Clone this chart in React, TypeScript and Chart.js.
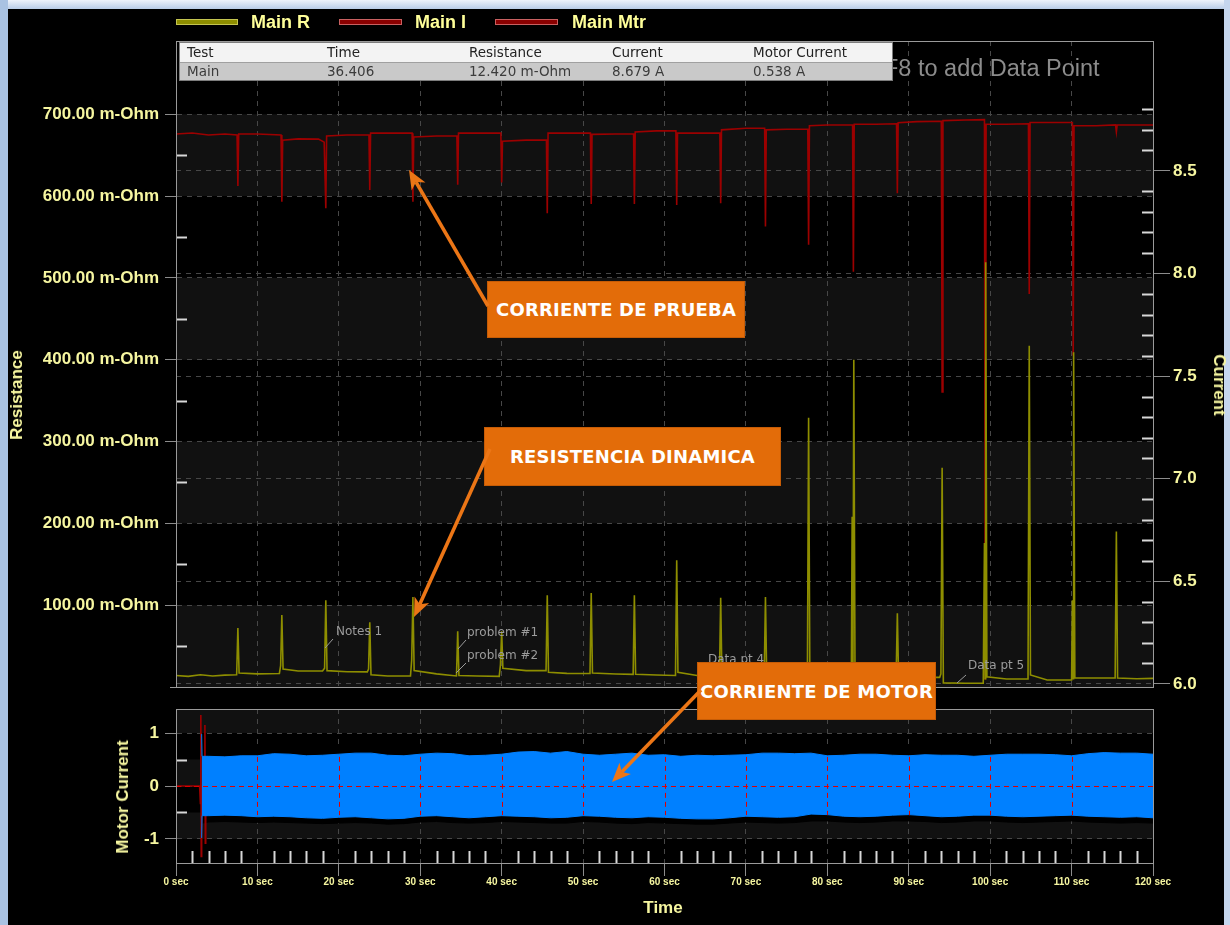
import React, { useEffect, useRef } from "react";
import { Chart, registerables } from "chart.js";

Chart.register(...registerables);

// ---------------- data ----------------
const TIME_TICKS = [0, 10, 20, 30, 40, 50, 60, 70, 80, 90, 100, 110, 120];
const TIME_MINOR = [2, 4, 6, 8, 12, 14, 16, 18, 22, 24, 26, 28, 32, 34, 36, 38, 42, 44, 46, 48, 52, 54, 56, 58, 62, 64, 66, 68, 72, 74, 76, 78, 82, 84, 86, 88, 92, 94, 96, 98, 102, 104, 106, 108, 112, 114, 116, 118];
const RES_TICKS = [100, 200, 300, 400, 500, 600, 700];
const RES_MINOR = [50, 150, 250, 350, 450, 550, 650];
const CUR_TICKS = [6.0, 6.5, 7.0, 7.5, 8.0, 8.5];
const CUR_MINOR = [6.1, 6.2, 6.3, 6.4, 6.6, 6.7, 6.8, 6.9, 7.1, 7.2, 7.3, 7.4, 7.6, 7.7, 7.8, 7.9, 8.1, 8.2, 8.3, 8.4, 8.6, 8.7, 8.8];
const MTR_TICKS = [-1, 0, 1];
const MTR_MINOR = [-0.5, 0.5];

// Main R : resistance (m-Ohm) vs time (sec)
const RES_TIME = [
  0, 1.5, 3, 4.5, 6, 7.45,
  7.6, 7.75, 10, 12.7, 12.85,
  13.0, 13.15, 15, 18.0, 18.25,
  18.4, 18.55, 21, 23.5, 23.65,
  23.8, 23.95, 26, 28.8, 28.95,
  29.1, 29.25, 32, 34.45,
  34.6, 34.75, 37, 39.7, 39.85,
  40.0, 40.15, 43, 45.45,
  45.6, 45.75, 48, 50.85,
  51.0, 51.15, 54, 56.15,
  56.3, 56.45, 59, 61.35,
  61.5, 61.65, 64, 66.75,
  66.9, 67.05, 70, 72.25,
  72.4, 72.55, 75, 77.55,
  77.7, 77.85, 80, 82.95,
  83.05, 83.15, 83.25, 83.4, 86, 88.45,
  88.6, 88.75, 91, 93.8, 93.95,
  94.1, 94.25, 97, 99.15,
  99.3, 99.38, 99.45, 99.6, 102, 104.65,
  104.8, 104.95, 107, 110.0,
  110.1, 110.18, 110.25, 110.4, 113, 115.35,
  115.5, 115.65, 118, 120,
];
const RES_VALUES = [
  14, 13, 15, 13.5, 14.5, 15,
  72, 17, 16, 16.5, 26,
  88, 22, 19.5, 19.5, 23,
  106, 20, 18.7, 18.5, 22,
  79, 15, 13.4, 13.4, 33,
  110, 20, 16, 13.5,
  68, 14, 13.4, 13, 27,
  68, 23, 20, 20,
  112, 18, 16.7, 16.5,
  115, 17, 15.9, 15.5,
  112, 15.5, 14.7, 14,
  155, 18, 14, 14,
  109, 15, 13.5, 13.5,
  110, 15, 13.5, 13.5,
  329, 15, 13.5, 13.5,
  208, 20, 400, 15, 12.5, 12.5,
  90, 12, 11.8, 11.8, 16,
  268, 5, 4.5, 4.5,
  176, 10, 519, 12.6, 9.8, 9.8,
  417, 14.7, 8.6, 8.6,
  106, 10, 409, 11, 11, 11,
  190, 11, 10, 10.5,
];

// Main I : test current (A) vs time (sec)
const CUR_TIME = [
  0, 2, 4, 6, 7.5, 7.6, 7.7,
  10, 12.9, 13.0, 13.1,
  15, 17.5, 18.2, 18.4, 18.5,
  21, 23.7, 23.8, 23.9,
  26, 29.0, 29.1, 29.2,
  32, 34.5, 34.6, 34.7,
  37, 39.9, 40.0, 40.1,
  43, 45.5, 45.6, 45.7,
  48, 50.9, 51.0, 51.1,
  54, 56.2, 56.3, 56.4,
  59, 61.4, 61.5, 61.6,
  64, 66.8, 66.9, 67.0,
  70, 72.3, 72.4, 72.5,
  75, 77.6, 77.7, 77.8,
  80, 83.1, 83.2, 83.3,
  86, 88.5, 88.6, 88.7,
  91, 94.0, 94.1, 94.2,
  97, 99.3, 99.4, 99.5,
  102, 104.7, 104.8, 104.9,
  107, 110.1, 110.2, 110.3,
  113, 115.4, 115.5, 115.6,
  120,
];
const CUR_VALUES = [
  8.68, 8.685, 8.675, 8.68, 8.675, 8.427, 8.68,
  8.68, 8.675, 8.35, 8.65,
  8.656, 8.655, 8.64, 8.318, 8.67,
  8.675, 8.675, 8.407, 8.684,
  8.684, 8.684, 8.35, 8.665,
  8.67, 8.67, 8.432, 8.684,
  8.684, 8.684, 8.443, 8.645,
  8.65, 8.65, 8.294, 8.684,
  8.684, 8.684, 8.339, 8.678,
  8.68, 8.68, 8.339, 8.69,
  8.695, 8.695, 8.334, 8.684,
  8.684, 8.684, 8.342, 8.7,
  8.708, 8.708, 8.229, 8.7,
  8.703, 8.703, 8.14, 8.72,
  8.724, 8.724, 8.008, 8.727,
  8.727, 8.73, 8.391, 8.735,
  8.74, 8.742, 7.423, 8.745,
  8.748, 8.75, 6.02, 8.727,
  8.727, 8.73, 7.9, 8.736,
  8.736, 8.736, 7.6, 8.72,
  8.72, 8.724, 8.69, 8.724,
  8.724,
];

// Motor current envelope (A) vs time (sec)
const MTR_TIME = [3.15, 3.2, 4, 6, 8, 10, 12, 14, 16, 18, 20, 22, 24, 26, 28, 30, 32, 34, 36, 38, 40, 42, 44, 46, 48, 50, 52, 54, 56, 58, 60, 62, 64, 66, 68, 70, 72, 74, 76, 78, 80, 82, 84, 86, 88, 90, 92, 94, 96, 98, 100, 102, 104, 106, 108, 110, 112, 114, 116, 118, 120];
const MTR_BLUE_HI = [0.98, 0.56, 0.56, 0.55, 0.57, 0.57, 0.61, 0.60, 0.57, 0.58, 0.60, 0.62, 0.62, 0.58, 0.57, 0.60, 0.62, 0.61, 0.57, 0.58, 0.60, 0.64, 0.65, 0.62, 0.65, 0.60, 0.58, 0.60, 0.62, 0.58, 0.59, 0.56, 0.58, 0.57, 0.58, 0.59, 0.62, 0.62, 0.61, 0.62, 0.57, 0.58, 0.60, 0.60, 0.58, 0.57, 0.59, 0.58, 0.58, 0.56, 0.58, 0.60, 0.60, 0.60, 0.59, 0.57, 0.61, 0.63, 0.62, 0.62, 0.60];
const MTR_BLUE_LO = [-0.98, -0.56, -0.56, -0.55, -0.56, -0.58, -0.57, -0.58, -0.60, -0.61, -0.59, -0.58, -0.60, -0.62, -0.61, -0.57, -0.56, -0.58, -0.60, -0.58, -0.56, -0.57, -0.58, -0.60, -0.59, -0.56, -0.57, -0.59, -0.60, -0.58, -0.59, -0.61, -0.62, -0.62, -0.60, -0.57, -0.58, -0.59, -0.58, -0.53, -0.54, -0.57, -0.58, -0.57, -0.55, -0.54, -0.56, -0.58, -0.57, -0.55, -0.55, -0.57, -0.58, -0.57, -0.56, -0.55, -0.57, -0.58, -0.59, -0.58, -0.60];
const MTR_BLACK_HI = [0.7, 0.7, 0.7, 0.7, 0.71, 0.72, 0.72, 0.71, 0.7, 0.71, 0.72, 0.73, 0.72, 0.7, 0.7, 0.72, 0.73, 0.72, 0.7, 0.71, 0.72, 0.74, 0.74, 0.72, 0.74, 0.71, 0.7, 0.72, 0.73, 0.7, 0.71, 0.7, 0.71, 0.7, 0.7, 0.71, 0.73, 0.73, 0.72, 0.73, 0.7, 0.7, 0.72, 0.72, 0.7, 0.7, 0.71, 0.7, 0.7, 0.7, 0.7, 0.72, 0.72, 0.72, 0.71, 0.7, 0.72, 0.74, 0.73, 0.73, 0.72];
const MTR_BLACK_LO = [-0.7, -0.7, -0.68, -0.67, -0.68, -0.69, -0.68, -0.69, -0.7, -0.71, -0.7, -0.69, -0.7, -0.72, -0.71, -0.68, -0.67, -0.69, -0.7, -0.69, -0.67, -0.68, -0.69, -0.7, -0.7, -0.67, -0.68, -0.7, -0.71, -0.69, -0.7, -0.71, -0.72, -0.72, -0.7, -0.68, -0.69, -0.7, -0.69, -0.66, -0.66, -0.68, -0.69, -0.68, -0.66, -0.66, -0.67, -0.69, -0.68, -0.66, -0.66, -0.68, -0.69, -0.68, -0.67, -0.66, -0.68, -0.69, -0.7, -0.69, -0.7];
const MTR_RED_TIME = [0, 2.9, 3.0, 3.05, 3.1, 3.15, 3.5, 3.55, 3.6, 3.65, 120];
const MTR_RED_VALUES = [0, 0, -0.33, 1.34, -1.33, 0, 0, 1.15, -1.08, 0, 0];

// shaded value bands of the plot backgrounds
const RES_BANDS = [[600, 700], [400, 500], [200, 300], [0, 100]];
const MTR_BANDS = [[1, 1.5], [0, 0.5], [-1, -0.5]];

// ---------------- style ----------------
const FONT = "'Liberation Sans', Arial, sans-serif";
const DJ = "'DejaVu Sans', Verdana, sans-serif";
const YEL = "#f6f6a0";
const OLIVE = "#8e8e00";
const DRED = "#9c0000";
const BLUE = "#0080ff";
const GRID = "#474747";
const TICK = "#8c8c8c";
const FRAME = "#9a9a9a";
const BAND = "#111111";
const MINOR = "#d8d8d8";
const ORANGE = "#e36c09";

const xy = (t: number[], v: number[]) => t.map((x, i) => ({ x, y: v[i] }));
const setTicks = (vals: number[]) => (s: any) => {
  s.ticks = vals.map((value) => ({ value }));
};
const fixWidth = (w: number) => (s: any) => {
  s.width = w;
  s.paddingTop = 0;
  s.paddingBottom = 0;
};
const fixHeight = (h: number) => (s: any) => {
  s.height = h;
  s.paddingLeft = 0;
  s.paddingRight = 0;
};

function bandsPlugin(bands: number[][], axis: string) {
  return {
    id: "bands_" + axis,
    beforeDraw(chart: any) {
      const { ctx, chartArea: a } = chart;
      const s = chart.scales[axis];
      ctx.save();
      ctx.fillStyle = BAND;
      for (const [lo, hi] of bands) {
        const y1 = Math.max(a.top, s.getPixelForValue(hi));
        const y2 = Math.min(a.bottom, s.getPixelForValue(lo));
        if (y2 > y1) ctx.fillRect(a.left, y1, a.right - a.left, y2 - y1);
      }
      ctx.restore();
    },
  };
}

function minorY(ctx: any, s: any, vals: number[], x0: number, dir: number) {
  for (const v of vals) {
    const y = Math.round(s.getPixelForValue(v)) + 0.5;
    ctx.beginPath();
    ctx.moveTo(x0, y);
    ctx.lineTo(x0 + dir * 11, y);
    ctx.stroke();
  }
}

const topDecor = {
  id: "topDecor",
  afterDraw(chart: any) {
    const { ctx, chartArea: a, scales } = chart;
    ctx.save();
    ctx.strokeStyle = MINOR;
    ctx.lineWidth = 2;
    minorY(ctx, scales.y, RES_MINOR, a.left, 1);
    minorY(ctx, scales.y1, CUR_MINOR, a.right, -1);
    ctx.strokeStyle = FRAME;
    ctx.lineWidth = 1;
    ctx.strokeRect(a.left + 0.5, a.top + 0.5, a.right - a.left, a.bottom - a.top);
    ctx.beginPath();
    ctx.moveTo(a.left - 6, a.bottom + 0.5);
    ctx.lineTo(a.left, a.bottom + 0.5);
    ctx.stroke();
    ctx.restore();
  },
};

const botDecor = {
  id: "botDecor",
  afterDatasetsDraw(chart: any) {
    const { ctx, chartArea: a, scales } = chart;
    const { x, y } = scales;
    ctx.save();
    ctx.strokeStyle = "#e00000";
    ctx.lineWidth = 1;
    ctx.setLineDash([5, 4]);
    const y0 = Math.round(y.getPixelForValue(0)) + 0.5;
    ctx.beginPath();
    ctx.moveTo(a.left, y0);
    ctx.lineTo(a.right, y0);
    ctx.stroke();
    for (const t of TIME_TICKS.slice(1, -1)) {
      const px = Math.round(x.getPixelForValue(t)) + 0.5;
      ctx.beginPath();
      ctx.moveTo(px, y.getPixelForValue(0.55));
      ctx.lineTo(px, y.getPixelForValue(-0.55));
      ctx.stroke();
    }
    ctx.restore();
  },
  afterDraw(chart: any) {
    const { ctx, chartArea: a, scales } = chart;
    ctx.save();
    ctx.strokeStyle = MINOR;
    ctx.lineWidth = 2;
    minorY(ctx, scales.y, MTR_MINOR, a.left, 1);
    for (const t of TIME_MINOR) {
      const px = Math.round(scales.x.getPixelForValue(t)) + 0.5;
      ctx.beginPath();
      ctx.moveTo(px, a.bottom);
      ctx.lineTo(px, a.bottom - 12);
      ctx.stroke();
    }
    ctx.strokeStyle = FRAME;
    ctx.lineWidth = 1;
    ctx.strokeRect(a.left + 0.5, a.top + 0.5, a.right - a.left, a.bottom - a.top);
    ctx.restore();
  },
};

const tickFont = { family: FONT, size: 17, weight: "bold" as const };

function topConfig(): any {
  return {
    type: "line",
    data: {
      datasets: [
        { label: "Main R", data: xy(RES_TIME, RES_VALUES), yAxisID: "y", borderColor: OLIVE, borderWidth: 1.6, pointRadius: 0, tension: 0 },
        { label: "Main I", data: xy(CUR_TIME, CUR_VALUES), yAxisID: "y1", borderColor: DRED, borderWidth: 1.6, pointRadius: 0, tension: 0 },
      ],
    },
    options: {
      responsive: false,
      animation: false,
      events: [],
      layout: { padding: { top: 41, bottom: 13, left: 0, right: 0 }, autoPadding: false },
      plugins: { legend: { display: false }, tooltip: { enabled: false } },
      scales: {
        x: {
          type: "linear", min: 0, max: 120,
          afterBuildTicks: setTicks(TIME_TICKS),
          ticks: { display: false },
          grid: { color: GRID, drawTicks: false },
          border: { display: false, dash: [5, 5] },
          afterFit: fixHeight(0),
        },
        y: {
          position: "left", min: 0, max: 789.5,
          afterBuildTicks: setTicks(RES_TICKS),
          ticks: { color: YEL, font: tickFont, padding: 6, callback: (v: any) => Number(v).toFixed(2) + " m-Ohm" },
          grid: { color: GRID, tickColor: TICK, tickLength: 11 },
          border: { color: FRAME, dash: [5, 5] },
          afterFit: fixWidth(176),
        },
        y1: {
          position: "right", min: 5.985, max: 9.133,
          afterBuildTicks: setTicks(CUR_TICKS),
          ticks: { color: YEL, font: tickFont, padding: 3, callback: (v: any) => Number(v).toFixed(1) },
          grid: { color: GRID, tickColor: TICK, tickLength: 17 },
          border: { color: FRAME, dash: [5, 5] },
          afterFit: fixWidth(77),
        },
      },
    },
    plugins: [bandsPlugin(RES_BANDS, "y"), topDecor],
  };
}

function botConfig(): any {
  const common = { pointRadius: 0, tension: 0 };
  return {
    type: "line",
    data: {
      datasets: [
        { label: "Motor hi", data: xy(MTR_TIME, MTR_BLUE_HI), borderColor: BLUE, backgroundColor: BLUE, borderWidth: 1, fill: "+1", ...common },
        { label: "Motor lo", data: xy(MTR_TIME, MTR_BLUE_LO), borderColor: BLUE, borderWidth: 1, fill: false, ...common },
        { label: "Main Mtr", data: xy(MTR_RED_TIME, MTR_RED_VALUES), borderColor: DRED, borderWidth: 1.6, fill: false, ...common },
        { label: "Env hi", data: xy(MTR_TIME, MTR_BLACK_HI), borderColor: "#000", backgroundColor: "#000", borderWidth: 1, fill: "+1", ...common },
        { label: "Env lo", data: xy(MTR_TIME, MTR_BLACK_LO), borderColor: "#000", borderWidth: 1, fill: false, ...common },
      ],
    },
    options: {
      responsive: false,
      animation: false,
      events: [],
      layout: { padding: { top: 9, bottom: 32, left: 0, right: 77 }, autoPadding: false },
      plugins: { legend: { display: false }, tooltip: { enabled: false } },
      scales: {
        x: {
          type: "linear", min: 0, max: 120,
          afterBuildTicks: setTicks(TIME_TICKS),
          ticks: { color: YEL, font: { family: FONT, size: 10, weight: "bold" }, padding: 0, maxRotation: 0, autoSkip: false, callback: (v: any) => v + " sec" },
          grid: { color: GRID, tickColor: TICK, tickLength: 13 },
          border: { color: FRAME, dash: [5, 5] },
          afterFit: fixHeight(30),
        },
        y: {
          position: "left", min: -1.453, max: 1.453,
          afterBuildTicks: setTicks(MTR_TICKS),
          ticks: { color: YEL, font: tickFont, padding: 6, callback: (v: any) => String(v) },
          grid: { color: GRID, tickColor: TICK, tickLength: 11 },
          border: { color: FRAME, dash: [5, 5] },
          afterFit: fixWidth(176),
        },
      },
    },
    plugins: [bandsPlugin(MTR_BANDS, "y"), botDecor],
  };
}

// ---------------- overlay helpers ----------------
function Txt({ x, y, children, style, center }: any) {
  return (
    <div
      style={{
        position: "absolute",
        left: x,
        top: y,
        transform: center ? "translate(-50%,-50%)" : "translateY(-50%)",
        lineHeight: 1,
        whiteSpace: "nowrap",
        ...style,
      }}
    >
      {children}
    </div>
  );
}

function Arrow({ x1, y1, x2, y2 }: any) {
  const dx = x2 - x1, dy = y2 - y1;
  const L = Math.hypot(dx, dy);
  const ux = dx / L, uy = dy / L;
  const hl = 19, hw = 8;
  const bx = x2 - ux * hl, by = y2 - uy * hl;
  const nx = x2 - ux * (hl - 5), ny = y2 - uy * (hl - 5);
  const px = -uy, py = ux;
  return (
    <g>
      <line x1={x1} y1={y1} x2={nx} y2={ny} stroke="#ec7616" strokeWidth={3.6} />
      <polygon
        points={`${x2},${y2} ${bx + px * hw},${by + py * hw} ${nx},${ny} ${bx - px * hw},${by - py * hw}`}
        fill="#ec7616"
      />
    </g>
  );
}

function Box({ x, y, w, h, text }: any) {
  return (
    <div
      style={{
        position: "absolute",
        left: x,
        top: y,
        width: w,
        height: h,
        boxSizing: "border-box",
        background: ORANGE,
        border: "1px solid #c65c06",
        color: "#fff",
        font: `bold 18px ${DJ}`,
        display: "flex",
        alignItems: "center",
        justifyContent: "center",
        whiteSpace: "nowrap",
        letterSpacing: "0.2px",
      }}
    >
      {text}
    </div>
  );
}

const noteStyle = { font: `12px ${DJ}`, color: "#9c9c9c" };
const tableCell = { position: "absolute" as const, font: `13.5px ${DJ}`, lineHeight: "19px", top: 0 };
const TABLE_COLS = [7, 147, 289, 432, 573];
const TABLE_HEAD = ["Test", "Time", "Resistance", "Current", "Motor Current"];
const TABLE_ROW = ["Main", "36.406", "12.420 m-Ohm", "8.679 A", "0.538 A"];

export default function App() {
  const topRef = useRef<HTMLCanvasElement>(null);
  const botRef = useRef<HTMLCanvasElement>(null);

  useEffect(() => {
    const c1 = new Chart(topRef.current as HTMLCanvasElement, topConfig());
    const c2 = new Chart(botRef.current as HTMLCanvasElement, botConfig());
    return () => {
      c1.destroy();
      c2.destroy();
    };
  }, []);

  const titleStyle = { font: `bold 17px ${FONT}`, color: YEL };

  return (
    <div style={{ position: "absolute", left: 0, top: 0, width: 1230, height: 925, background: "#000", overflow: "hidden" }}>
      {/* window frame */}
      <div style={{ position: "absolute", left: 0, top: 0, width: 1230, height: 9, background: "linear-gradient(#eef3fb, #b9cde8)" }} />
      <div style={{ position: "absolute", left: 0, top: 0, width: 8, height: 925, background: "#a9c2e2" }} />
      <div style={{ position: "absolute", left: 1224, top: 0, width: 6, height: 925, background: "#c5d6ee" }} />

      <canvas ref={topRef} width={1230} height={700} style={{ position: "absolute", left: 0, top: 0 }} />
      <canvas ref={botRef} width={1230} height={225} style={{ position: "absolute", left: 0, top: 700 }} />

      {/* axis titles */}
      <Txt x={17} y={395} center style={{ ...titleStyle, transform: "translate(-50%,-50%) rotate(-90deg)" }}>Resistance</Txt>
      <Txt x={1219} y={385} center style={{ ...titleStyle, transform: "translate(-50%,-50%) rotate(90deg)" }}>Current</Txt>
      <Txt x={123} y={797} center style={{ ...titleStyle, transform: "translate(-50%,-50%) rotate(-90deg)" }}>Motor Current</Txt>
      <Txt x={663} y={908} center style={titleStyle}>Time</Txt>

      {/* legend */}
      <div style={{ position: "absolute", left: 176, top: 19, width: 62, height: 6, background: OLIVE, border: "1px solid #c4c450", boxSizing: "border-box" }} />
      <Txt x={251} y={22} style={{ font: `bold 18px ${FONT}`, color: "#ffff99" }}>Main R</Txt>
      <div style={{ position: "absolute", left: 339, top: 19, width: 63, height: 6, background: "#8a0000", border: "1px solid #c86060", boxSizing: "border-box" }} />
      <Txt x={415} y={22} style={{ font: `bold 18px ${FONT}`, color: "#ffff99" }}>Main I</Txt>
      <div style={{ position: "absolute", left: 495, top: 19, width: 63, height: 6, background: "#8a0000", border: "1px solid #c86060", boxSizing: "border-box" }} />
      <Txt x={572} y={22} style={{ font: `bold 18px ${FONT}`, color: "#ffff99" }}>Main Mtr</Txt>

      {/* F8 hint + data table */}
      <Txt x={884} y={68} style={{ font: `23.5px ${FONT}`, color: "#8c8c8c" }}>F8 to add Data Point</Txt>
      <div style={{ position: "absolute", left: 179, top: 42, width: 714, height: 39, boxSizing: "border-box", border: "1px solid #7c7c7c", background: "#c9c9c9" }}>
        <div style={{ position: "absolute", left: 0, top: 0, width: 712, height: 19, background: "#f3f3f3", borderBottom: "1px solid #a0a0a0" }}>
          {TABLE_HEAD.map((t, i) => (
            <div key={t} style={{ ...tableCell, left: TABLE_COLS[i], color: "#222" }}>{t}</div>
          ))}
        </div>
        <div style={{ position: "absolute", left: 0, top: 19, width: 712, height: 18 }}>
          {TABLE_ROW.map((t, i) => (
            <div key={t} style={{ ...tableCell, left: TABLE_COLS[i], color: "#3c3c3c" }}>{t}</div>
          ))}
        </div>
      </div>

      {/* small data-point notes */}
      <Txt x={336} y={631} style={noteStyle}>Notes 1</Txt>
      <Txt x={467} y={632} style={noteStyle}>problem #1</Txt>
      <Txt x={467} y={655} style={noteStyle}>problem #2</Txt>
      <Txt x={708} y={659} style={noteStyle}>Data pt 4</Txt>
      <Txt x={968} y={665} style={noteStyle}>Data pt 5</Txt>
      <svg width={1230} height={925} style={{ position: "absolute", left: 0, top: 0 }}>
        <g stroke="#9c9c9c" strokeWidth={1}>
          <line x1={333} y1={639} x2={325} y2={648} />
          <line x1={466} y1={640} x2={458} y2={649} />
          <line x1={466} y1={663} x2={456} y2={673} />
          <line x1={966} y1={675} x2={957} y2={683} />
        </g>
      </svg>

      {/* orange call-outs */}
      <Box x={487} y={281} w={258} h={57} text="CORRIENTE DE PRUEBA" />
      <Box x={484} y={427} w={297} h={59} text="RESISTENCIA DINAMICA" />
      <Box x={697} y={662} w={239} h={58} text="CORRIENTE DE MOTOR" />
      <svg width={1230} height={925} style={{ position: "absolute", left: 0, top: 0 }}>
        <Arrow x1={488} y1={306} x2={409} y2={170} />
        <Arrow x1={490} y1={449} x2={414} y2={617} />
        <Arrow x1={701} y1={690} x2={612} y2={782} />
      </svg>
    </div>
  );
}
